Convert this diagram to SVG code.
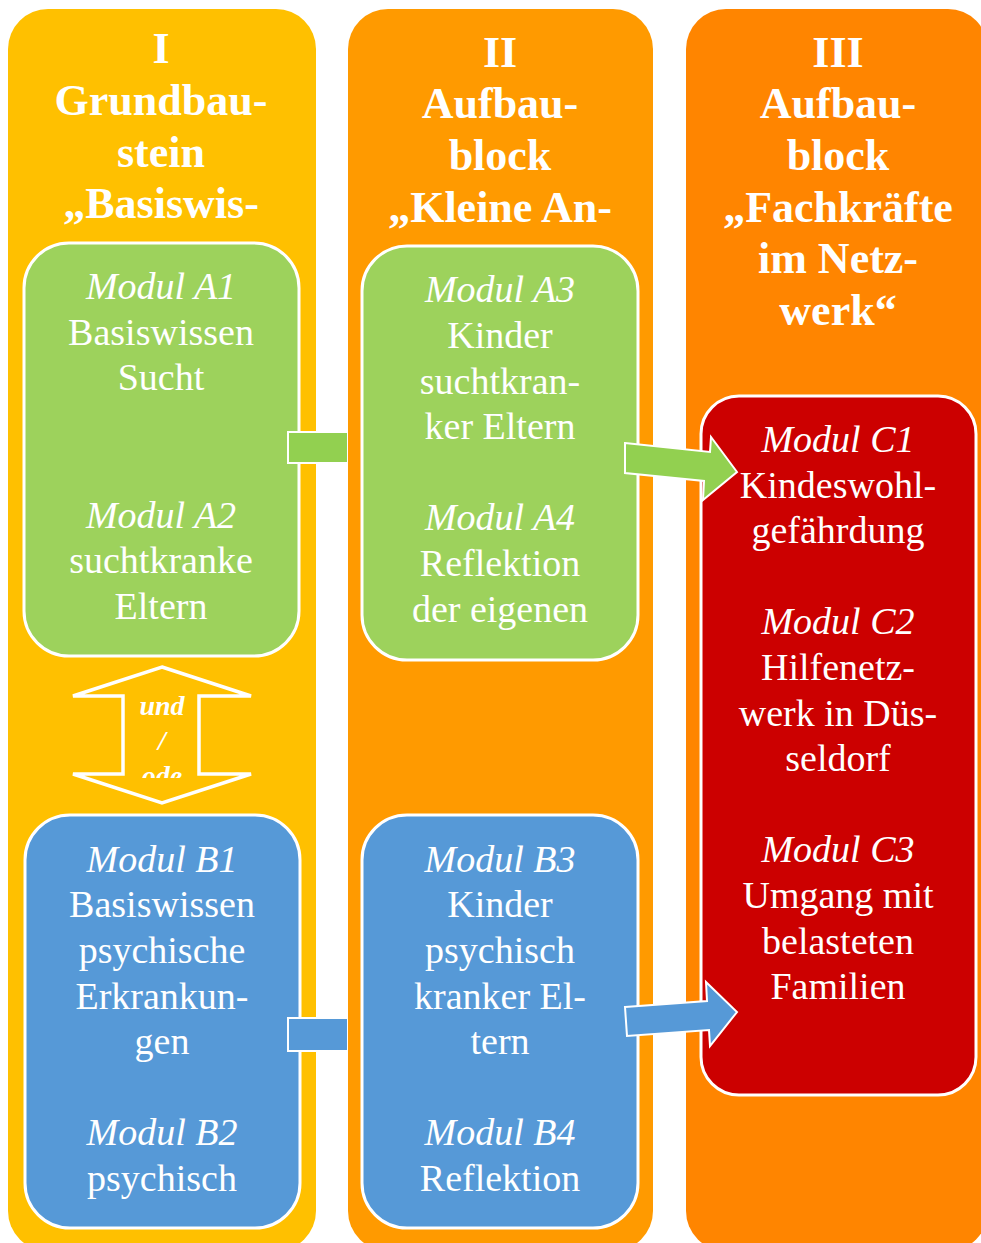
<svg xmlns="http://www.w3.org/2000/svg" width="981" height="1243" viewBox="0 0 981 1243">
<style>
.t{font-family:"Liberation Serif","Times New Roman",serif;fill:#fff;text-anchor:middle}
.h{font-size:44px;font-weight:bold}
.m{font-size:38px}
.i{font-style:italic}
.box{stroke:#fff;stroke-width:3}
.g{fill:#9DD25C}
.b{fill:#5699D7}
.r{fill:#CC0000}
.con{stroke:#fff;stroke-width:2}
</style>
<defs>
<clipPath id="clipU"><rect x="100" y="680" width="120" height="98"/></clipPath>
</defs>
<rect width="981" height="1243" fill="#fff"/>
<g id="col1">
<rect x="8" y="9" width="308" height="1242" rx="40" fill="#FFC000"/>
<text class="t h" x="161"><tspan x="161" y="63">I</tspan><tspan x="161" y="115">Grundbau-</tspan><tspan x="161" y="167">stein</tspan><tspan x="161" y="218">„Basiswis-</tspan></text>
</g>
<g id="boxA">
<rect class="box g" x="24" y="243" width="275" height="413" rx="45"/>
<text class="t m"><tspan class="i" x="161" y="299">Modul A1</tspan><tspan x="161" y="345">Basiswissen</tspan><tspan x="161" y="390">Sucht</tspan><tspan class="i" x="161" y="528">Modul A2</tspan><tspan x="161" y="573">suchtkranke</tspan><tspan x="161" y="619">Eltern</tspan></text>
</g>
<g id="boxB1">
<rect class="box b" x="25" y="815" width="275" height="413" rx="45"/>
<text class="t m"><tspan class="i" x="162" y="872">Modul B1</tspan><tspan x="162" y="917">Basiswissen</tspan><tspan x="162" y="963">psychische</tspan><tspan x="162" y="1009">Erkrankun-</tspan><tspan x="162" y="1054">gen</tspan><tspan class="i" x="162" y="1145">Modul B2</tspan><tspan x="162" y="1191">psychisch</tspan></text>
</g>
<g id="undoder">
<polygon points="162,667 251,696 199,696 199,774 251,774 162,803 73,774 123,774 123,696 73,696" fill="none" stroke="#fff" stroke-width="3.5"/>
<g clip-path="url(#clipU)">
<text class="t i" style="font-size:28px;font-weight:bold"><tspan x="162" y="715">und</tspan><tspan x="162" y="750">/</tspan><tspan x="162" y="785">ode</tspan></text>
</g>
</g>
<g id="connectors1">
<path d="M347,432 H288 V463 H347" fill="#92D050" stroke="#fff" stroke-width="2"/>
<path d="M347,1018 H288 V1051 H347" fill="#5699D7" stroke="#fff" stroke-width="2"/>
</g>
<g id="col2">
<rect x="348" y="9" width="305" height="1242" rx="40" fill="#FF9A00"/>
<text class="t h"><tspan x="500" y="67">II</tspan><tspan x="500" y="118">Aufbau-</tspan><tspan x="500" y="170">block</tspan><tspan x="500" y="222">„Kleine An-</tspan></text>
</g>
<g id="boxA3">
<rect class="box g" x="362" y="246" width="276" height="414" rx="45"/>
<text class="t m"><tspan class="i" x="500" y="302">Modul A3</tspan><tspan x="500" y="348">Kinder</tspan><tspan x="500" y="394">suchtkran-</tspan><tspan x="500" y="439">ker Eltern</tspan><tspan class="i" x="500" y="530">Modul A4</tspan><tspan x="500" y="576">Reflektion</tspan><tspan x="500" y="622">der eigenen</tspan></text>
</g>
<g id="boxB3">
<rect class="box b" x="362" y="815" width="276" height="413" rx="45"/>
<text class="t m"><tspan class="i" x="500" y="872">Modul B3</tspan><tspan x="500" y="917">Kinder</tspan><tspan x="500" y="963">psychisch</tspan><tspan x="500" y="1009">kranker El-</tspan><tspan x="500" y="1054">tern</tspan><tspan class="i" x="500" y="1145">Modul B4</tspan><tspan x="500" y="1191">Reflektion</tspan></text>
</g>
<g id="col3">
<rect x="686" y="9" width="302" height="1242" rx="40" fill="#FF8500"/>
<text class="t h"><tspan x="838" y="67">III</tspan><tspan x="838" y="118">Aufbau-</tspan><tspan x="838" y="170">block</tspan><tspan x="838" y="222">„Fachkräfte</tspan><tspan x="838" y="273">im Netz-</tspan><tspan x="838" y="325">werk“</tspan></text>
</g>
<g id="boxC">
<rect class="box r" x="701" y="396" width="275" height="699" rx="38"/>
<text class="t m"><tspan class="i" x="838" y="452">Modul C1</tspan><tspan x="838" y="498">Kindeswohl-</tspan><tspan x="838" y="543">gefährdung</tspan><tspan class="i" x="838" y="634">Modul C2</tspan><tspan x="838" y="680">Hilfenetz-</tspan><tspan x="838" y="726">werk in Düs-</tspan><tspan x="838" y="771">seldorf</tspan><tspan class="i" x="838" y="862">Modul C3</tspan><tspan x="838" y="908">Umgang mit</tspan><tspan x="838" y="954">belasteten</tspan><tspan x="838" y="999">Familien</tspan></text>
</g>
<g id="connectors2">
<polygon class="con" points="625,443 710,452 711,437 737,472 703,500 704,481 625,473" fill="#92D050"/>
<polygon class="con" points="625,1007 707,1001 706,982 737,1012 710,1046 709,1030 627,1036" fill="#5699D7"/>
</g>
</svg>
